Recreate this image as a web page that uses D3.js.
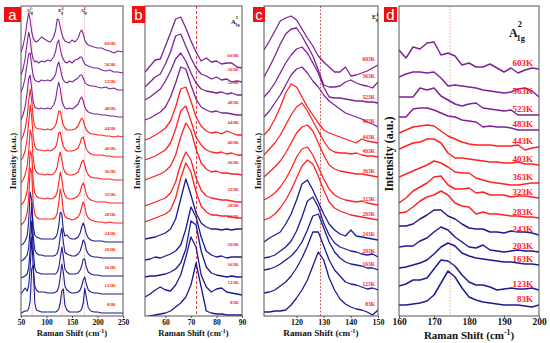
<!DOCTYPE html>
<html><head><meta charset="utf-8">
<script src="https://cdn.jsdelivr.net/npm/d3@7"></script>
<style>body{margin:0;background:#fff}svg{display:block}</style>
</head><body>
<svg id="chart" width="550" height="343"></svg>
<script>
// ---------------- data ----------------
const temps = ["83K","123K","163K","203K","243K","283K","323K","363K","403K","443K","483K","523K","563K","603K"];

// Panel a: full spectra 50-250 cm-1
const axA = [50,54,58,62,65,68,71,74,77,80,85,90,96,102,108,114,118,121,124,127,130,133,136,140,145,150,156,162,166,169,172,175,178,182,187,193,200,208,216,224,232,240,250];
const baseA = [3,22,40,58,74,93,113,136,159,179,199,226,243,264];
const specA = [
 [0,1,2,2,4,12,44,48,10,3, 2,1,1,1,1,1,1,2,4,10, 22,24,8,3,1,1,1,1,2,4, 10,25,16,5,2,1,1,0,0,0, 0,0,0],
 [0,3,6,3,8,26,57,26,8,4, 2,2,2,1,1,1,2,3,7,17, 30,22,8,4,2,1,1,2,4,8, 14,17,10,4,2,1,1,0,0,0, 0,0,0],
 [-2,-1,0,2,8,26,55,26,8,4, 3,2,2,2,2,2,2,4,8,18, 29,20,7,4,2,2,2,3,6,10, 17,17,9,4,2,1,1,0,0,0, 0,0,0],
 [-3,-2,0,3,10,30,55,22,8,5, 3,3,2,2,2,2,3,5,10,22, 30,16,6,4,3,2,2,4,7,12, 18,16,8,4,2,1,1,0,0,0, 0,0,0],
 [-3,-2,1,6,20,50,42,16,7,5, 4,3,3,3,3,3,5,8,16,30, 28,12,6,7,4,3,3,5,9,15, 19,15,8,4,2,1,1,1,0,0, 0,0,0],
 [-2,0,3,10,24,55,50,20,9,6, 4,4,4,4,4,4,6,10,20,34, 26,12,7,5,4,3,4,6,10,16, 21,17,9,5,3,2,1,1,0,1, 0,0,0],
 [-2,0,4,12,26,52,48,22,10,7, 5,5,4,5,4,5,7,11,20,31, 24,13,8,5,4,4,5,7,11,17, 20,16,9,5,3,2,1,1,1,0, 0,0,0],
 [-3,0,5,14,28,50,44,22,11,8, 6,6,5,6,5,6,9,13,22,28, 20,12,8,6,5,5,6,8,13,18, 20,15,9,5,3,2,2,1,1,1, 0,0,0],
 [-3,0,6,18,34,52,40,20,11,8, 7,7,6,7,6,8,10,15,24,25, 17,11,8,6,6,6,7,9,14,19, 20,14,8,5,3,2,2,2,1,1, 0,0,0],
 [-3,1,8,20,36,48,36,18,11,9, 8,8,7,8,7,9,12,18,26,26, 18,12,9,7,7,7,8,11,16,19, 17,11,7,5,3,3,2,2,1,1, 0,1,0],
 [-3,2,10,24,38,42,28,15,10,9, 8,9,8,9,8,12,18,28,35,28, 17,12,9,8,9,8,10,13,18,20, 16,10,7,5,4,3,3,2,2,1, 1,0,0],
 [-2,3,12,26,36,37,24,14,10,9, 8,10,9,10,9,12,16,24,28,22, 14,10,8,7,9,8,10,12,15,15, 12,8,6,5,4,4,3,2,3,1, 2,0,0],
 [-2,4,14,30,41,34,20,14,11,12, 10,12,11,13,12,16,22,30,33,24, 17,14,11,10,12,10,13,14,16,16, 12,9,8,7,6,5,5,3,2,3, 1,1,0],
 [0,6,16,30,39,32,20,14,11,10, 12,15,13,11,10,15,22,33,32,25, 18,14,11,10,9,12,10,14,20,22, 18,12,9,7,6,5,4,4,2,1, -1,1,0]
];

// Panel b: A1g(1) region 52-90 cm-1
const axB = [52,54,56,58,60,62,64,66,68,70,72,74,76,78,80,82,84,86,88,90];
const baseB = [1,21,39,59,87,98,114,141,161,181,201,221,234,248];
const specB = [
 [-2,-1,0,1,2,4,8,12,18,30,52,28,4,2,1,1,0,0,0,0],
 [-2,1,5,8,5,4,10,20,38,58,48,20,8,3,6,7,3,2,1,0],
 [0,1,1,2,3,5,8,14,28,56,52,26,10,4,2,1,0,1,0,0],
 [-3,-2,0,-1,1,3,6,12,28,50,40,20,6,2,0,1,-1,0,0,0],
 [-10,-9,-8,-6,-4,0,10,30,50,34,16,6,2,0,0,-1,0,-1,0,0],
 [-4,-2,0,2,4,8,20,40,55,46,26,12,6,3,3,2,2,1,0,0],
 [-4,-2,0,2,4,9,20,38,50,42,24,12,6,4,3,2,2,1,0,0],
 [-5,-3,-1,1,4,9,20,38,52,44,26,12,6,3,4,2,2,1,1,0],
 [-5,-3,-1,2,5,12,26,44,49,34,18,10,5,3,2,3,1,2,0,0],
 [-5,-3,0,3,7,14,28,46,48,34,18,9,4,2,3,1,4,2,0,0],
 [-5,-3,0,3,8,18,32,48,46,30,16,8,5,3,4,2,2,1,0,0],
 [-5,-2,2,6,14,24,36,42,34,22,12,6,4,3,2,3,1,2,0,0],
 [-5,0,5,8,18,30,46,48,36,24,14,8,6,3,5,2,3,0,1,0],
 [-4,2,8,9,22,35,49,51,40,27,16,7,10,6,7,4,5,5,1,0]
];

// Panel c: Eg(1) region 108-150 cm-1
const axC = [108,110,112,114,116,118,120,122,124,126,128,130,132,134,136,138,140,142,144,146,148,150];
const baseC = [6,26,46,59,76,96,111,139,159,173,189,213,234,251];
const specC = [
 [-2,-2,-1,-1,0,5,12,20,30,44,58,50,32,20,11,6,3,1,0,-2,-5,0],
 [-3,-2,0,4,8,14,22,32,44,58,58,44,30,20,14,8,6,5,3,1,2,0],
 [0,1,3,6,10,14,20,28,40,54,56,42,28,18,12,8,6,5,4,2,2,0],
 [-1,0,2,6,10,16,26,40,56,60,50,34,22,14,10,8,6,5,3,2,3,0],
 [-2,2,5,8,16,26,40,56,60,50,38,26,16,10,6,4,10,4,3,2,1,0],
 [0,2,6,12,20,30,42,54,60,56,44,30,18,12,9,7,5,4,3,2,1,0],
 [5,8,12,18,26,36,48,56,58,50,38,26,16,10,7,5,4,3,4,2,1,0],
 [0,5,10,16,24,34,44,50,52,46,34,22,12,8,6,5,4,3,3,2,1,0],
 [2,8,14,22,32,42,50,54,46,36,26,16,8,5,4,4,3,4,2,1,1,0],
 [8,14,24,36,50,59,56,46,36,28,20,13,10,8,6,4,2,0,4,2,1,0],
 [10,16,24,32,42,52,58,60,54,46,40,32,26,22,18,14,12,10,8,5,3,0],
 [6,12,20,30,40,48,54,56,50,40,30,16,6,5,5,4,3,2,2,1,1,0],
 [5,15,26,38,48,53,54,46,36,26,12,-3,-5,-5,-4,0,2,-1,-3,-4,-6,0],
 [15,24,34,44,47,49,45,36,27,19,9,3,-2,-7,-7,-2,-11,-10,-8,-6,-3,0]
];

// Panel d: A1g(2) region 160-200 cm-1
const axD = [160,162,164,166,168,170,172,174,176,178,180,182,184,186,188,190,192,194,196,198,200];
const baseD = [11,26,51,64,81,98,118,133,151,169,186,201,219,247];
const specD = [
 [0,0,1,2,4,10,22,34,28,17,8,5,3,2,1,0,0,0,-1,-2,0],
 [4,6,10,10,12,21,30,29,24,15,8,5,5,3,0,1,2,1,1,2,0],
 [-3,-2,0,2,5,11,18,22,19,12,9,7,6,5,4,3,3,2,1,1,0],
 [5,6,6,11,14,20,25,22,15,10,5,4,7,2,1,0,1,2,1,1,0],
 [9,9,11,16,20,25,25,19,16,11,7,6,6,3,3,2,4,3,3,2,0],
 [5,6,11,17,21,23,27,23,15,12,11,4,6,4,4,3,2,2,1,1,0],
 [-5,0,7,11,15,21,22,13,9,9,10,5,6,3,3,3,1,2,2,1,0],
 [6,9,12,15,18,22,20,16,11,10,10,5,3,1,0,-1,-2,-2,-1,0,0],
 [16,19,22,23,26,26,22,12,7,7,6,5,4,3,3,2,2,3,1,1,0],
 [14,17,20,21,22,21,16,11,8,5,3,2,2,2,1,1,1,2,-3,-1,0],
 [13,13,21,22,22,20,17,14,13,10,9,8,3,4,3,3,2,0,0,0,0],
 [18,18,18,27,25,27,19,15,11,9,11,12,7,6,5,4,5,0,0,0,0],
 [20,23,25,25,24,25,19,11,12,11,10,9,7,6,5,4,5,8,9,6,0],
 [19,11,22,20,26,27,14,16,13,4,6,2,2,5,1,-3,1,-4,-1,1,0]
];

const ticksA = [50,100,150,200,250];
const ticksB = [60,70,80,90];
const ticksC = [120,130,140,150];
const ticksD = [160,170,180,190,200];
const marksA = [72,131,174.5];
const marksB = [72.2];
const marksC = [128.8];
const marksD = [174.6];

// ---------------- drawing ----------------
const svg = d3.select("#chart");
const SERIF = "'Liberation Serif','Times New Roman',serif";
const colorOf = i => i < 5 ? "#1b1b92" : (i < 10 ? "#ff2222" : "#7e2299");
const yS = d3.scaleLinear().domain([0,310]).range([316,6]);

const panels = [
 {id:"a", xs:axA, base:baseA, spec:specA, dom:[50,250], x0:21, x1:123, ticks:ticksA, marks:marksA,
  markStyle:{c:"#e8a8a8", d:"1,1.2"}, lw:1.1, labX:116, labGap:9, labFs:5, tickFs:7.5, tickPad:1.5, titleFs:8.6, titleY:336, ytX:13, ytY:161, ytFs:9,
  box:[4,7,17,15], boxFs:15},
 {id:"b", xs:axB, base:baseB, spec:specB, dom:[52,90], x0:145, x1:242, ticks:ticksB, marks:marksB,
  markStyle:{c:"#e03a3a", d:"3,2"}, lw:1.3, labX:239, labGap:13, labFs:5, tickFs:7.5, tickPad:1.5, titleFs:8.6, titleY:336, ytX:137, ytY:161, ytFs:9,
  box:[132,6,13,17], boxFs:15},
 {id:"c", xs:axC, base:baseC, spec:specC, dom:[108,150], x0:264, x1:378, ticks:ticksC, marks:marksC,
  markStyle:{c:"#c06060", d:"2,1.5"}, lw:1.3, labX:375, labGap:6, labFs:5.5, tickFs:8, tickPad:1.5, titleFs:9.2, titleY:336, ytX:258, ytY:161, ytFs:9,
  box:[253,7,12,15], boxFs:15},
 {id:"d", xs:axD, base:baseD, spec:specD, dom:[160,200], x0:399, x1:539, ticks:ticksD, marks:marksD,
  markStyle:{c:"#e8a8a8", d:"1.5,1.5"}, lw:1.5, labX:533, labGap:6, labFs:9, tickFs:9.5, tickPad:0, titleFs:11, titleY:339, ytX:389, ytY:154, ytFs:12,
  box:[384,7,13,15], boxFs:15}
];

panels.forEach(p => {
  const x = d3.scaleLinear().domain(p.dom).range([p.x0, p.x1]);
  const g = svg.append("g");
  const clipId = "clip-" + p.id;
  svg.append("clipPath").attr("id", clipId).append("rect")
    .attr("x", p.x0).attr("y", 6).attr("width", p.x1 - p.x0).attr("height", 310);
  const plot = g.append("g").attr("clip-path", `url(#${clipId})`);

  p.marks.forEach(m => {
    plot.append("line").attr("x1", x(m)).attr("x2", x(m)).attr("y1", 6).attr("y2", 316)
      .attr("stroke", p.markStyle.c).attr("stroke-width", 1).attr("stroke-dasharray", p.markStyle.d);
  });

  for (let k = temps.length - 1; k >= 0; k--) {
    const line = d3.line()
      .x((d, i) => x(p.xs[i]))
      .y(d => yS(p.base[k] + d));
    plot.append("path").attr("d", line(p.spec[k]))
      .attr("fill", "none").attr("stroke", colorOf(k))
      .attr("stroke-width", p.lw).attr("stroke-linejoin", "round");
  }

  temps.forEach((t, k) => {
    g.append("text").attr("x", p.labX).attr("y", yS(p.base[k]) - p.labGap + p.labFs * 0.35)
      .attr("text-anchor", "end").attr("font-family", SERIF).attr("font-weight", "bold")
      .attr("font-size", p.labFs).attr("fill", "#ff2020").text(t);
  });

  g.append("rect").attr("x", p.x0).attr("y", 6).attr("width", p.x1 - p.x0).attr("height", 310)
    .attr("fill", "none").attr("stroke", "#555").attr("stroke-width", 1);

  const ax = g.append("g").attr("transform", "translate(0,316)")
    .call(d3.axisBottom(x).tickValues(p.ticks).tickSize(2).tickPadding(p.tickPad));
  ax.select(".domain").remove();
  ax.selectAll("line").attr("stroke", "#555");
  ax.selectAll("text").attr("font-family", SERIF).attr("font-weight", "bold")
    .attr("font-size", p.tickFs).attr("fill", "#111");

  const tt = g.append("text").attr("x", (p.x0 + p.x1) / 2).attr("y", p.titleY)
    .attr("text-anchor", "middle").attr("font-family", SERIF).attr("font-weight", "bold")
    .attr("font-size", p.titleFs).attr("fill", "#111");
  tt.append("tspan").text("Raman Shift (cm");
  tt.append("tspan").attr("dy", -p.titleFs * 0.38).attr("font-size", p.titleFs * 0.7).text("-1");
  tt.append("tspan").attr("dy", p.titleFs * 0.38).text(")");

  g.append("text").attr("transform", `translate(${p.ytX},${p.ytY}) rotate(-90)`)
    .attr("text-anchor", "middle").attr("dy", "0.35em").attr("font-family", SERIF).attr("font-weight", "bold")
    .attr("font-size", p.ytFs).attr("fill", "#111").text("Intensity (a.u.)");

  g.append("rect").attr("x", p.box[0]).attr("y", p.box[1]).attr("width", p.box[2]).attr("height", p.box[3])
    .attr("fill", "#ee1111");
  g.append("text").attr("x", p.box[0] + p.box[2] / 2).attr("y", p.box[1] + p.box[3] / 2)
    .attr("dy", "0.36em").attr("text-anchor", "middle").attr("font-family", "'Liberation Sans',Arial,sans-serif")
    .attr("font-size", p.boxFs).attr("fill", "#fff").text(p.id);
});

// mode annotations
function mode(x, y, main, sub, sup, fs, supLift) {
  const t = svg.append("text").attr("x", x).attr("y", y).attr("font-family", SERIF)
    .attr("font-weight", "bold").attr("font-size", fs).attr("fill", "#111");
  t.append("tspan").text(main);
  const sx = x + fs * 0.62;
  t.append("tspan").attr("x", sx).attr("y", y + fs * 0.3).attr("font-size", fs * 0.7).text(sub);
  t.append("tspan").attr("x", sx + fs * 0.1).attr("y", y - fs * (supLift || 0.45)).attr("font-size", fs * 0.7).text(sup);
}
const xA = d3.scaleLinear().domain([50,250]).range([21,123]);
mode(xA(64) - 2, 12, "A", "1g", "1", 5);
mode(xA(127) - 2, 12, "E", "g", "2", 5);
mode(xA(170) - 2, 12, "A", "1g", "2", 5);
mode(231, 24, "A", "1g", "1", 6.5, 0.7);
mode(372, 19, "E", "g", "1", 6);
mode(509, 37, "A", "1g", "2", 12, 0.85);
</script>
</body></html>
